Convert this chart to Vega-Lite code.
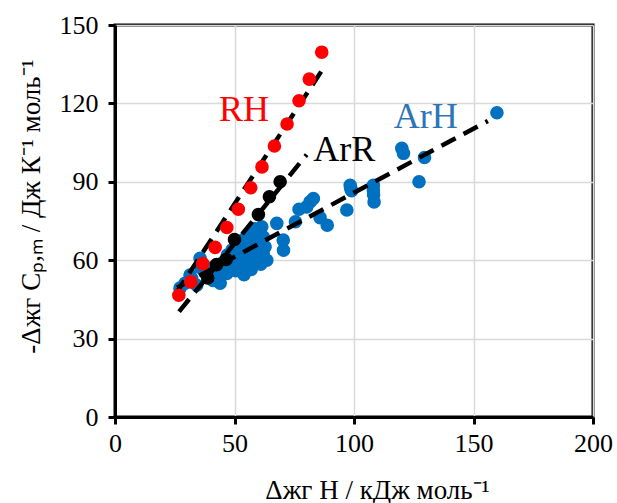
{
  "$schema": "https://vega.github.io/schema/vega-lite/v6.json",
  "width": 478,
  "height": 392,
  "autosize": {"type": "none"},
  "padding": {"left": 115, "top": 25, "right": 24, "bottom": 86},
  "background": "white",
  "config": {
    "view": {"stroke": "#000000", "strokeWidth": 3},
    "font": "Liberation Serif",
    "axis": {
      "domainColor": "#000000", "domainWidth": 3,
      "tickColor": "#000000", "tickWidth": 3, "tickSize": 7,
      "gridColor": "#D9D9D9", "gridWidth": 1.5,
      "labelFont": "Liberation Serif", "labelFontSize": 26, "labelColor": "#000000",
      "labelFlush": false, "labelOverlap": false,
      "titleFont": "Liberation Serif", "titleFontSize": 27, "titleFontWeight": "normal", "titleColor": "#000000"
    }
  },
  "datasets": {
    "pts": [
      {"s": "ArH", "x": 159.8, "y": 116.4},
      {"s": "ArH", "x": 120.0, "y": 102.8},
      {"s": "ArH", "x": 120.7, "y": 100.9},
      {"s": "ArH", "x": 129.5, "y": 99.3},
      {"s": "ArH", "x": 127.2, "y": 90.0},
      {"s": "ArH", "x": 98.4, "y": 88.7},
      {"s": "ArH", "x": 98.6, "y": 87.5},
      {"s": "ArH", "x": 99.0, "y": 86.6},
      {"s": "ArH", "x": 108.1, "y": 88.7},
      {"s": "ArH", "x": 108.1, "y": 86.8},
      {"s": "ArH", "x": 108.2, "y": 85.0},
      {"s": "ArH", "x": 108.4, "y": 82.3},
      {"s": "ArH", "x": 97.0, "y": 79.2},
      {"s": "ArH", "x": 88.8, "y": 73.4},
      {"s": "ArH", "x": 85.8, "y": 76.3},
      {"s": "ArH", "x": 83.0, "y": 83.6},
      {"s": "ArH", "x": 81.6, "y": 82.3},
      {"s": "ArH", "x": 80.2, "y": 80.4},
      {"s": "ArH", "x": 77.0, "y": 79.5},
      {"s": "ArH", "x": 75.5, "y": 74.7},
      {"s": "ArH", "x": 67.7, "y": 74.1},
      {"s": "ArH", "x": 70.4, "y": 67.7},
      {"s": "ArH", "x": 70.5, "y": 63.8},
      {"s": "ArH", "x": 61.4, "y": 72.8},
      {"s": "ArH", "x": 62.1, "y": 68.9},
      {"s": "ArH", "x": 62.8, "y": 65.1},
      {"s": "ArH", "x": 63.5, "y": 60.0},
      {"s": "ArH", "x": 62.0, "y": 62.5},
      {"s": "ArH", "x": 60.7, "y": 70.3},
      {"s": "ArH", "x": 27.2, "y": 49.3},
      {"s": "ArH", "x": 29.3, "y": 51.2},
      {"s": "ArH", "x": 31.4, "y": 54.3},
      {"s": "ArH", "x": 32.1, "y": 53.0},
      {"s": "ArH", "x": 34.2, "y": 50.4},
      {"s": "ArH", "x": 35.6, "y": 60.7},
      {"s": "ArH", "x": 36.0, "y": 57.0},
      {"s": "ArH", "x": 38.0, "y": 55.5},
      {"s": "ArH", "x": 40.0, "y": 57.0},
      {"s": "ArH", "x": 41.0, "y": 52.3},
      {"s": "ArH", "x": 42.0, "y": 55.0},
      {"s": "ArH", "x": 44.0, "y": 51.2},
      {"s": "ArH", "x": 44.0, "y": 56.0},
      {"s": "ArH", "x": 45.0, "y": 59.0},
      {"s": "ArH", "x": 46.8, "y": 54.9},
      {"s": "ArH", "x": 47.0, "y": 62.0},
      {"s": "ArH", "x": 48.0, "y": 58.0},
      {"s": "ArH", "x": 49.0, "y": 64.0},
      {"s": "ArH", "x": 50.0, "y": 60.0},
      {"s": "ArH", "x": 50.5, "y": 56.0},
      {"s": "ArH", "x": 52.0, "y": 62.0},
      {"s": "ArH", "x": 52.3, "y": 57.4},
      {"s": "ArH", "x": 53.0, "y": 65.0},
      {"s": "ArH", "x": 53.6, "y": 60.0},
      {"s": "ArH", "x": 54.0, "y": 68.0},
      {"s": "ArH", "x": 55.0, "y": 63.0},
      {"s": "ArH", "x": 56.0, "y": 58.0},
      {"s": "ArH", "x": 56.0, "y": 66.0},
      {"s": "ArH", "x": 57.0, "y": 70.0},
      {"s": "ArH", "x": 58.0, "y": 61.0},
      {"s": "ArH", "x": 59.3, "y": 63.8},
      {"s": "ArH", "x": 60.0, "y": 67.0},
      {"s": "ArH", "x": 61.0, "y": 58.5},
      {"s": "ArH", "x": 57.0, "y": 56.5},
      {"s": "ArH", "x": 54.0, "y": 54.5},
      {"s": "ArH", "x": 58.5, "y": 72.0},
      {"s": "ArR", "x": 38.8, "y": 53.2},
      {"s": "ArR", "x": 42.5, "y": 58.3},
      {"s": "ArR", "x": 46.5, "y": 60.3},
      {"s": "ArR", "x": 50.0, "y": 67.9},
      {"s": "ArR", "x": 60.0, "y": 77.5},
      {"s": "ArR", "x": 64.6, "y": 84.3},
      {"s": "ArR", "x": 69.1, "y": 90.0},
      {"s": "RH", "x": 26.7, "y": 46.6},
      {"s": "RH", "x": 31.7, "y": 51.7},
      {"s": "RH", "x": 36.7, "y": 58.7},
      {"s": "RH", "x": 41.9, "y": 64.9},
      {"s": "RH", "x": 46.8, "y": 72.5},
      {"s": "RH", "x": 51.6, "y": 79.5},
      {"s": "RH", "x": 56.8, "y": 87.7},
      {"s": "RH", "x": 61.5, "y": 95.7},
      {"s": "RH", "x": 66.7, "y": 103.7},
      {"s": "RH", "x": 72.0, "y": 112.1},
      {"s": "RH", "x": 77.0, "y": 121.0},
      {"s": "RH", "x": 81.3, "y": 129.3},
      {"s": "RH", "x": 86.5, "y": 139.6}
    ],
    "fits": [
      {"f": "RH", "x": 25.3, "y": 47.0},
      {"f": "RH", "x": 86.5, "y": 132.5},
      {"f": "ArR", "x": 26.8, "y": 40.3},
      {"f": "ArR", "x": 80.2, "y": 100.4},
      {"f": "ArH", "x": 26.0, "y": 49.5},
      {"f": "ArH", "x": 156.0, "y": 113.3}
    ],
    "labels": [
      {"t": "RH", "x": 54.0, "y": 117.4, "c": "#FF0000"},
      {"t": "ArR", "x": 95.9, "y": 102.2, "c": "#000000"},
      {"t": "ArH", "x": 130.0, "y": 114.9, "c": "#2E75B6"}
    ]
  },
  "encoding": {
    "x": {
      "field": "x", "type": "quantitative",
      "scale": {"domain": [0, 200], "nice": false, "zero": false},
      "axis": {
        "values": [0, 50, 100, 150, 200], "labelPadding": 6,
        "title": "Δжг H / кДж моль⁻¹",
        "titleX": 262, "titleY": 81, "titleBaseline": "alphabetic", "titleAlign": "center"
      }
    },
    "y": {
      "field": "y", "type": "quantitative",
      "scale": {"domain": [0, 150], "nice": false, "zero": false},
      "axis": {
        "values": [0, 30, 60, 90, 120, 150], "labelPadding": 10,
        "title": "-Δжг Cₚ,ₘ / Дж К⁻¹ моль⁻¹",
        "titleX": -84, "titleY": 181, "titleBaseline": "middle", "titleAlign": "center", "titleAngle": -90
      }
    }
  },
  "layer": [
    {
      "data": {"name": "pts"},
      "transform": [{"filter": "datum.s === 'ArH'"}],
      "mark": {"type": "circle", "size": 185, "opacity": 1, "color": "#0070C0"}
    },
    {
      "data": {"name": "fits"},
      "mark": {"type": "line", "color": "#000000", "strokeWidth": 4.5, "strokeDash": [16, 9], "strokeCap": "butt"},
      "encoding": {"detail": {"field": "f"}}
    },
    {
      "data": {"name": "pts"},
      "transform": [{"filter": "datum.s === 'ArR'"}],
      "mark": {"type": "circle", "size": 185, "opacity": 1, "color": "#000000"}
    },
    {
      "data": {"name": "pts"},
      "transform": [{"filter": "datum.s === 'RH'"}],
      "mark": {"type": "circle", "size": 185, "opacity": 1, "color": "#FF0000"}
    },
    {
      "data": {"name": "labels"},
      "mark": {"type": "text", "font": "Liberation Serif", "fontSize": 36, "align": "center", "baseline": "middle"},
      "encoding": {
        "text": {"field": "t"},
        "color": {"field": "c", "type": "nominal", "scale": null}
      }
    }
  ]
}
